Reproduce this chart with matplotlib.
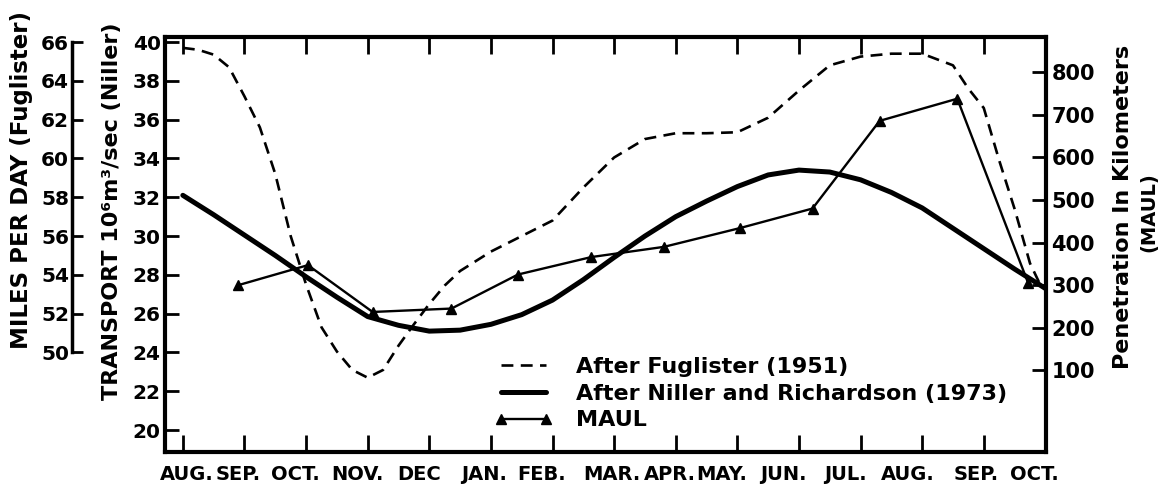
import matplotlib
matplotlib.use("Agg")
import matplotlib.pyplot as plt

plt.rcParams["font.family"] = ["DejaVu Sans"]
plt.rcParams["font.weight"] = "bold"

# ---------------- data ----------------
MONTHS = ["AUG.", "SEP.", "OCT.", "NOV.", "DEC", "JAN.", "FEB.", "MAR.",
          "APR.", "MAY.", "JUN.", "JUL.", "AUG.", "SEP.", "OCT."]
MONTH_TICKS = list(range(15))            # Aug (0) ... Oct of next year (14)

# After Niller and Richardson (1973): transport, 10^6 m^3/sec
NILLER_X = [0, 0.5, 1, 1.5, 2, 2.5, 3, 3.5, 4, 4.5, 5, 5.5, 6, 6.5, 7, 7.5,
            8, 8.5, 9, 9.5, 10, 10.5, 11, 11.5, 12, 12.5, 13, 13.5, 14]
NILLER_Y = [32.1, 31.1, 30.05, 29.0, 27.9, 26.85, 25.85, 25.4, 25.1, 25.15,
            25.45, 25.95, 26.7, 27.75, 28.9, 30.0, 31.0, 31.8, 32.55, 33.15,
            33.4, 33.3, 32.9, 32.25, 31.45, 30.4, 29.35, 28.3, 27.3]

# After Fuglister (1951): miles per day
FUG_X = [0, 0.25, 0.5, 0.75, 1, 1.25, 1.5, 1.75, 2, 2.25, 2.5, 2.75, 3, 3.25,
         3.5, 3.75, 4, 4.25, 4.5, 5, 5.5, 6, 6.5, 7, 7.5, 8, 8.5, 9, 9.5, 10,
         10.5, 11, 11.5, 12, 12.5, 12.75, 13, 13.25, 13.5, 13.75, 13.9]
FUG_Y = [65.7, 65.6, 65.35, 64.7, 63.2, 61.6, 59.2, 56.0, 53.5, 51.3, 50.05,
         49.1, 48.7, 49.1, 50.35, 51.45, 52.5, 53.45, 54.2, 55.2, 56.0, 56.8,
         58.5, 60.05, 61.0, 61.3, 61.3, 61.35, 62.1, 63.5, 64.8, 65.25, 65.4,
         65.4, 64.8, 63.6, 62.6, 59.9, 57.4, 54.6, 53.6]

# MAUL: penetration in kilometers
MAUL_X = [0.9, 2.03, 3.08, 4.36, 5.44, 6.63, 7.81, 9.04, 10.22, 11.31, 12.57, 13.72]
MAUL_Y = [300, 347, 237, 245, 325, 366, 390, 434, 480, 686, 738, 305]

TRANSPORT_TICKS = list(range(20, 41, 2))
MILES_TICKS = list(range(50, 67, 2))
KM_TICKS = list(range(100, 801, 100))

# ---------------- layout ----------------
W, H = 1168, 491
fig = plt.figure(figsize=(W / 100, H / 100), dpi=100)
L, R, T, B = 165, 1046, 37, 452
ax = fig.add_axes([L / W, 1 - B / H, (R - L) / W, (B - T) / H])

T_LIM = (18.87, 40.26)
ax.set_ylim(*T_LIM)
ax.set_xlim(-0.29, 14.01)

SPINE_W = 3.0
for s in ax.spines.values():
    s.set_linewidth(SPINE_W)
ax.spines["right"].set_visible(False)

ax.set_yticks(TRANSPORT_TICKS)
ax.tick_params(axis="y", which="major", direction="in", length=10, width=2,
               labelsize=14.5, pad=3)
ax.xaxis.remove_overlapping_locs = False
ax.set_xticks(MONTH_TICKS)
ax.tick_params(axis="x", which="major", direction="in", length=12, width=2,
               top=True, bottom=True, labelbottom=False, labeltop=False)
label_pos = [0.06, 0.90, 1.83, 2.84, 3.83, 4.89, 5.83, 6.96, 7.9, 8.75,
             9.75, 10.75, 11.77, 12.88, 13.82]
ax.set_xticks(label_pos, MONTHS, minor=True)
ax.tick_params(axis="x", which="minor", length=0, labelsize=14, pad=9,
               top=False)

# Miles-per-day axis (outer left)
axm = ax.twinx()
axm.set_ylim(T_LIM[0] + 26, T_LIM[1] + 26)
axm.spines["left"].set_position(("axes", (72 - L) / (R - L)))
axm.spines["left"].set_visible(True)
axm.spines["left"].set_bounds(50, 66)
axm.spines["left"].set_linewidth(2.5)
for k in ("right", "top", "bottom"):
    axm.spines[k].set_visible(False)
axm.yaxis.set_ticks_position("left")
axm.set_yticks(MILES_TICKS)
axm.tick_params(axis="y", direction="in", length=8, width=2, labelsize=14.5, pad=2)

# Kilometers axis (right)
axk = ax.twinx()
KM_LIM = (-92, 883)
axk.set_ylim(*KM_LIM)
for k in ("left", "top", "bottom"):
    axk.spines[k].set_visible(False)
axk.spines["right"].set_linewidth(SPINE_W)
axk.set_yticks(KM_TICKS)
axk.tick_params(axis="y", direction="in", length=10, width=2, labelsize=15, pad=4)

# ---------------- series ----------------
fug, = axm.plot(FUG_X, FUG_Y, color="black", lw=1.9, dashes=(4.5, 2.8),
                label="After Fuglister (1951)")
nil, = ax.plot(NILLER_X, NILLER_Y, color="black", lw=3.6,
               solid_capstyle="round", solid_joinstyle="round",
               label="After Niller and Richardson (1973)")
maul, = axk.plot(MAUL_X, MAUL_Y, color="black", lw=1.7, marker="^",
                 markersize=6.5, label="MAUL")

# ---------------- legend ----------------
leg = axk.legend(handles=[fug, nil, maul], loc="upper left",
                 bbox_to_anchor=((494 - L) / (R - L), (B - 357) / (B - T)),
                 frameon=False, fontsize=16, numpoints=2, handlelength=2.65,
                 handletextpad=1.05, labelspacing=0.3, borderpad=0,
                 borderaxespad=0)

# ---------------- axis titles ----------------
fig.text(22 / W, 1 - 180 / H, "MILES PER DAY (Fuglister)", rotation=90,
         ha="center", va="center", fontsize=16.5)
fig.text(112 / W, 1 - 211 / H, "TRANSPORT 10\u2076m\u00b3/sec (Niller)",
         rotation=90, ha="center", va="center", fontsize=16)
fig.text(1123 / W, 1 - 207 / H, "Penetration In Kilometers",
         rotation=90, ha="center", va="center", fontsize=16)
fig.text(1149 / W, 1 - 212 / H, "(MAUL)",
         rotation=90, ha="center", va="center", fontsize=14)

fig.savefig("out.png", dpi=100, facecolor="white")
